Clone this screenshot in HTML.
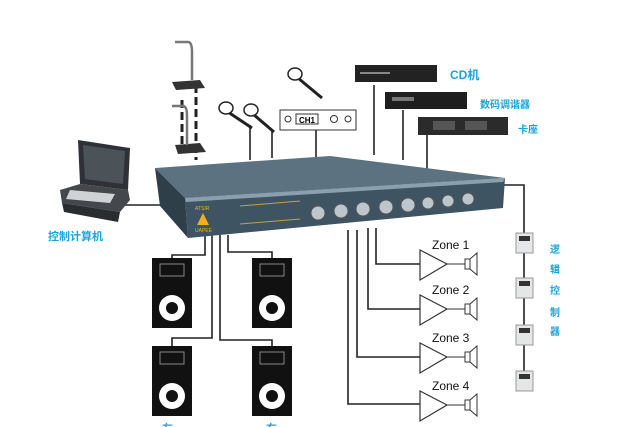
<!DOCTYPE html>
<html><head><meta charset="utf-8"><style>
html,body{margin:0;padding:0;background:#fff;width:629px;height:427px;overflow:hidden}
svg{display:block}
.cn{font-family:"Liberation Sans","Noto Sans CJK SC",sans-serif;fill:#1aa3dc;font-weight:bold}
.z{font-family:"Liberation Sans",sans-serif;font-size:12px;fill:#111}
</style></head><body>
<svg width="629" height="427" viewBox="0 0 629 427" xmlns="http://www.w3.org/2000/svg">
<g stroke="#222" stroke-width="1.6" fill="none">
<!-- laptop line -->
<path d="M120 205 H165"/>
<!-- gooseneck dashed -->
<path d="M196 85 V160 M182 100 V150" stroke-dasharray="8 4" stroke-width="3"/>
<!-- mic lines -->
<path d="M250 125 V160 M272 130 V158 M316 130 V157 M374 85 V155 M403 110 V160 M427 135 V170"/>
<!-- speaker lines -->
<path d="M205 235 V255 H172 V260 M212 235 V338 H172 V346 M220 235 V340 H272 V346 M228 235 V252 H272 V260"/>
<!-- zone lines -->
<path d="M376 228 V264 H420 M368 228 V309 H420 M357 230 V357 H420 M348 230 V404 H420"/>
<!-- wall control line -->
<path d="M500 185 H524 V380"/>
</g>
<!-- mixer -->
<polygon points="155,168 330,156 505,178 185,198" fill="#5d7281"/>
<polygon points="185,198 505,178 503,208 188,238" fill="#3f5463"/>
<polygon points="155,168 185,198 188,238 160,206" fill="#2f3f4a"/>
<polygon points="185,198 505,178 503,182 186,202" fill="#8aa0ae"/>
<g fill="#bcc6cc" stroke="#555" stroke-width="1">
<circle cx="318" cy="213" r="7"/><circle cx="341" cy="211" r="7"/><circle cx="363" cy="209" r="7"/><circle cx="386" cy="207" r="7"/><circle cx="408" cy="205" r="7"/><circle cx="428" cy="203" r="6"/><circle cx="448" cy="201" r="6"/><circle cx="468" cy="199" r="6"/>
</g>
<polygon points="197,225 203,213 209,225" fill="#f2b01e"/>
<text x="195" y="210" font-size="5" fill="#f2b01e" font-family="Liberation Sans">ATSIR</text>
<text x="195" y="232" font-size="5" fill="#f2b01e" font-family="Liberation Sans">UAPEE</text>
<path d="M240 206 L300 201 M240 224 L300 219" stroke="#c8a040" stroke-width="1"/>
<!-- laptop -->
<polygon points="78,140 130,148 128,190 80,184" fill="#2e3236"/>
<polygon points="83,145 125,151 123,184 85,179" fill="#4b5258"/>
<polygon points="60,190 80,184 128,190 130,200 120,212 62,203" fill="#44484c"/>
<polygon points="70,190 115,194 110,203 66,199" fill="#cfd3d6"/>
<polygon points="62,203 120,212 118,222 64,212" fill="#2a2d30"/>
<text x="48" y="240" class="cn" font-size="11">控制计算机</text>
<!-- gooseneck mics -->
<g fill="#333"><polygon points="172,82 200,80 205,88 176,90"/><polygon points="175,145 200,143 206,152 178,154"/></g>
<path d="M175 42 H188 Q192 42 192 52 V80 M172 106 H183 Q187 106 187 116 V145" stroke="#777" stroke-width="2.5" fill="none"/>
<!-- handheld mics -->
<g stroke="#222" stroke-width="3"><path d="M228 112 L252 128 M253 114 L274 132 M298 78 L322 98"/></g>
<g fill="#fff" stroke="#222" stroke-width="1.5"><ellipse cx="226" cy="108" rx="7" ry="6"/><ellipse cx="251" cy="110" rx="7" ry="6"/><ellipse cx="295" cy="74" rx="7" ry="6"/></g>
<rect x="280" y="110" width="76" height="20" fill="#fff" stroke="#333"/>
<rect x="296" y="114" width="22" height="10" fill="#fff" stroke="#333"/>
<text x="299" y="123" font-size="8" font-family="Liberation Sans" font-weight="bold">CH1</text>
<circle cx="288" cy="119" r="3" fill="none" stroke="#333"/><circle cx="334" cy="119" r="3.5" fill="none" stroke="#333"/><circle cx="348" cy="119" r="3" fill="none" stroke="#333"/>
<!-- sources -->
<rect x="355" y="65" width="82" height="17" fill="#222"/><rect x="360" y="72" width="30" height="2" fill="#888"/>
<rect x="385" y="92" width="82" height="17" fill="#1e1e1e"/><rect x="392" y="97" width="22" height="4" fill="#777"/>
<rect x="418" y="117" width="90" height="18" fill="#2b2b2b"/><rect x="433" y="121" width="22" height="9" fill="#555"/><rect x="465" y="121" width="22" height="9" fill="#555"/>
<text x="450" y="79" class="cn" font-size="12" font-weight="normal">CD机</text>
<text x="480" y="108" class="cn" font-size="10">数码调谐器</text>
<text x="518" y="133" class="cn" font-size="10">卡座</text>
<!-- speakers -->
<g id="sp">
<rect x="152" y="258" width="40" height="70" fill="#111"/>
<rect x="160" y="264" width="24" height="12" fill="none" stroke="#888"/>
<circle cx="172" cy="308" r="13" fill="#fff"/><circle cx="172" cy="308" r="6" fill="#111"/>
</g>
<use href="#sp" x="100"/><use href="#sp" y="88"/><use href="#sp" x="100" y="88"/>
<text x="162" y="432" class="cn" font-size="11">左</text><text x="266" y="432" class="cn" font-size="11">右</text>
<!-- zones -->
<g id="zn">
<text x="432" y="249" class="z">Zone 1</text>
<polygon points="420,250 447,264 420,280" fill="#fff" stroke="#333" stroke-width="1.2"/>
<path d="M447 264 H465" stroke="#333"/>
<rect x="465" y="259" width="5" height="10" fill="#fff" stroke="#333"/>
<polygon points="470,259 477,253 477,275 470,269" fill="#fff" stroke="#333"/>
</g>
<g transform="translate(0,45)"><text x="432" y="249" class="z">Zone 2</text><polygon points="420,250 447,264 420,280" fill="#fff" stroke="#333" stroke-width="1.2"/><path d="M447 264 H465" stroke="#333"/><rect x="465" y="259" width="5" height="10" fill="#fff" stroke="#333"/><polygon points="470,259 477,253 477,275 470,269" fill="#fff" stroke="#333"/></g>
<g transform="translate(0,93)"><text x="432" y="249" class="z">Zone 3</text><polygon points="420,250 447,264 420,280" fill="#fff" stroke="#333" stroke-width="1.2"/><path d="M447 264 H465" stroke="#333"/><rect x="465" y="259" width="5" height="10" fill="#fff" stroke="#333"/><polygon points="470,259 477,253 477,275 470,269" fill="#fff" stroke="#333"/></g>
<g transform="translate(0,141)"><text x="432" y="249" class="z">Zone 4</text><polygon points="420,250 447,264 420,280" fill="#fff" stroke="#333" stroke-width="1.2"/><path d="M447 264 H465" stroke="#333"/><rect x="465" y="259" width="5" height="10" fill="#fff" stroke="#333"/><polygon points="470,259 477,253 477,275 470,269" fill="#fff" stroke="#333"/></g>
<!-- wall controls -->
<g fill="#e4e6e8" stroke="#999">
<rect x="516" y="233" width="17" height="20"/><rect x="516" y="278" width="17" height="20"/><rect x="516" y="325" width="17" height="20"/><rect x="516" y="371" width="17" height="20"/>
</g>
<g fill="#333"><rect x="519" y="236" width="11" height="5"/><rect x="519" y="281" width="11" height="5"/><rect x="519" y="328" width="11" height="5"/><rect x="519" y="374" width="11" height="5"/></g>
<g class="cn" font-size="10"><text x="550" y="253">逻</text><text x="550" y="273">辑</text><text x="550" y="294">控</text><text x="550" y="316">制</text><text x="550" y="335">器</text></g>
</svg>
</body></html>
